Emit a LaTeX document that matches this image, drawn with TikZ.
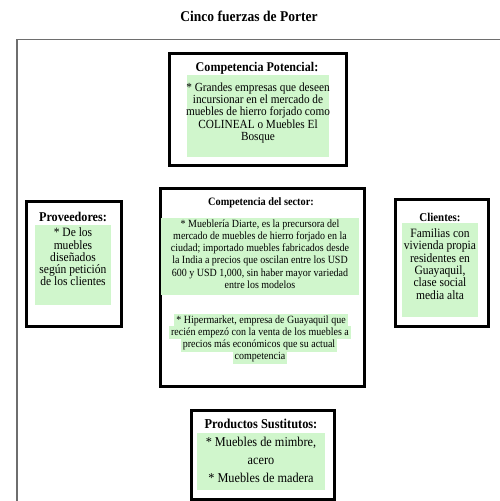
\documentclass[tikz,border=0pt]{standalone}
\usepackage{fontspec}
\usepackage{graphicx}
\setmainfont{Liberation Serif}
\usetikzlibrary{backgrounds}
\definecolor{hl}{RGB}{208,246,204}
\definecolor{frameg}{RGB}{110,110,110}
\newcommand{\sqz}[1]{\scalebox{0.909}[1]{\parbox{300pt}{\centering\lineskiplimit=-30pt\relax#1}}}
\newcommand{\sqt}[1]{\scalebox{0.909}[1]{#1}}
\begin{document}
\begin{tikzpicture}[x=1pt,y=-1pt,
  box/.style={draw=black,line width=3pt,fill=white,inner sep=0pt,anchor=north west},
  hlbox/.style={fill=hl,inner sep=0pt,anchor=north west},
  ttl/.style={font=\bfseries\fontsize{#1}{16}\selectfont,inner sep=0pt},
  body/.style={font=\fontsize{12.4}{12.4}\selectfont,inner sep=0pt},
  hline/.style={fill=hl,font=\fontsize{11}{12.3}\selectfont,inner xsep=2pt,inner ysep=0pt,text height=9pt,text depth=4pt},
  vconn/.style={draw=frameg,line width=1.5pt},
  hconn/.style={draw=black!85,line width=1pt}]
\useasboundingbox (0,0) rectangle (500,501);
\fill[white] (0,0) rectangle (500,501);
\draw[frameg,line width=1.5pt] (17,501) -- (17,39.5) -- (500,39.5);
\node[ttl=14.9] (title) at (249,16) {\sqt{Cinco fuerzas de Porter}};
% top box
\node[box,minimum width=177pt,minimum height=112pt] (pot) at (168,52) {};
\node[hlbox,minimum width=142pt,minimum height=82pt] (potbg) at (187,75) {};
\node[ttl=13.3] (pott) at (257,68) {\sqt{Competencia Potencial:}};
\node[body] (potx) at (258,113) {\sqz{* Grandes empresas que deseen\\incursionar en el mercado de\\muebles de hierro forjado como\\COLINEAL o Muebles El\\Bosque}};
% center box
\node[box,minimum width=204pt,minimum height=198pt] (sec) at (159,187) {};
\node[hlbox,minimum width=198pt,minimum height=77pt] (secbg) at (161,218) {};
\node[ttl=11.3] (sect) at (261,203) {\sqt{Competencia del sector:}};
\node[body,font=\fontsize{11}{12.3}\selectfont] (secx) at (260,254) {\sqz{* Mueblería Diarte, es la precursora del\\mercado de muebles de hierro forjado en la\\ciudad; importado muebles fabricados desde\\la India a precios que oscilan entre los USD\\600 y USD 1,000, sin haber mayor variedad\\entre los modelos}};
\node[hline] (h1) at (261,320.5) {\sqt{* Hipermarket, empresa de Guayaquil que}};
\node[hline] (h2) at (260,332.8) {\sqt{recién empezó con la venta de los muebles a}};
\node[hline] (h3) at (259,345.1) {\sqt{precios más económicos que su actual}};
\node[hline] (h4) at (260,357.4) {\sqt{competencia}};
% left box
\node[box,minimum width=95pt,minimum height=125pt] (prov) at (25,200) {};
\node[hlbox,minimum width=76pt,minimum height=80pt] (provbg) at (35,225) {};
\node[ttl=13.4] (provt) at (73,217) {\sqt{Proveedores:}};
\node[body,font=\fontsize{12.7}{12.3}\selectfont] (provx) at (73,257) {\sqz{* De los\\muebles\\diseñados\\según petición\\de los clientes}};
% right box
\node[box,minimum width=93pt,minimum height=127pt] (cli) at (394,198) {};
\node[hlbox,minimum width=76pt,minimum height=94pt] (clibg) at (402,223) {};
\node[ttl=12] (clit) at (440,217) {\sqt{Clientes:}};
\node[body,font=\fontsize{12.7}{12.3}\selectfont] (clix) at (440,264) {\sqz{Familias con\\vivienda propia\\residentes en\\Guayaquil,\\clase social\\media alta}};
% bottom box
\node[box,minimum width=143pt,minimum height=89pt] (sub) at (190,409) {};
\node[hlbox,minimum width=128pt,minimum height=57pt] (subbg) at (197,433) {};
\node[ttl=13.6] (subt) at (261,424) {\sqt{Productos Sustitutos:}};
\node[body,font=\fontsize{13.5}{18}\selectfont] (subx) at (261,460) {\sqz{* Muebles de mimbre,\\acero\\{}* Muebles de madera}};
% connectors
\begin{scope}[on background layer]
\draw[vconn] (sec.north) -- (sec.north |- pot.south);
\draw[vconn] (sub.north) -- (sub.north |- sec.south);
\draw[hconn] ([yshift=2.5pt]prov.east) -- ([yshift=2.5pt]prov.east -| sec.west);
\draw[hconn] ([yshift=1pt]cli.west) -- ([yshift=1pt]cli.west -| sec.east);
\end{scope}
\end{tikzpicture}
\end{document}
